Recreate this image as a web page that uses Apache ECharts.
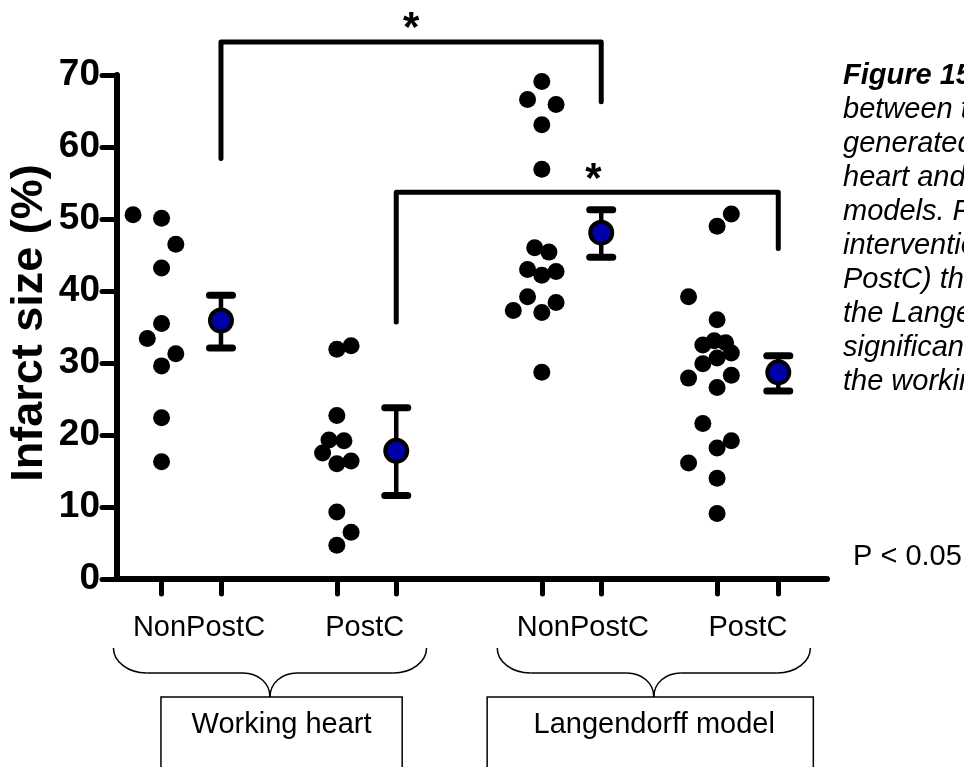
<!DOCTYPE html>
<html>
<head>
<meta charset="utf-8">
<script src="https://cdn.jsdelivr.net/npm/echarts@6/dist/echarts.min.js"></script>
<style>
  html, body { margin: 0; padding: 0; background: #fff; }
  #chart { width: 964px; height: 767px; }
</style>
</head>
<body>
<div id="chart"></div>
<script>
// Infarct size (%) of individual hearts, per model and treatment
const groupNames = ['NonPostC', 'PostC', 'NonPostC', 'PostC'];
const modelNames = ['Working heart', 'Langendorff model'];

const whNonPostC = [50.6, 50.1, 46.5, 43.2, 35.5, 33.4, 31.3, 29.6, 22.4, 16.3];
const whPostC = [32.4, 31.9, 22.7, 19.3, 19.2, 17.5, 16.4, 16.0, 9.3, 6.5, 4.7];
const lgNonPostC = [69.1, 66.6, 65.9, 63.1, 56.9, 46.0, 45.4, 43.0, 42.7, 42.2, 39.2, 38.4, 37.3, 37.0, 28.7];
const lgPostC = [50.7, 49.0, 39.2, 36.0, 33.1, 32.8, 32.5, 31.4, 30.7, 29.9, 28.3, 27.9, 26.6, 21.6, 19.2, 18.2, 16.1, 14.0, 9.1];

// group mean with the ends of its error bar
const groupMean = [35.9, 17.8, 48.1, 28.7];
const groupLow = [32.1, 11.6, 44.7, 26.1];
const groupHigh = [39.4, 23.8, 51.3, 31.0];

const yTicks = [0, 10, 20, 30, 40, 50, 60, 70];

// significance brackets: groups joined, height of the bar, foot of each leg
const sigFrom = [0, 1];
const sigTo = [2, 3];
const sigTop = [74.6, 53.7];
const sigLeftFoot = [58.4, 35.7];
const sigRightFoot = [66.3, 45.9];

const captionLines = ['Figure 15', 'between the', 'generated', 'heart and', 'models. For',
  'intervention', 'PostC) the', 'the Langendorff', 'significantly', 'the working'];
const pNote = 'P < 0.05';

// ---- layout (x in axis units) ----
const dotCol = [0.75, 3.7, 7.15, 10.1];
const meanCol = [1.75, 4.7, 8.15, 11.13];
const laneWidth = 0.24;
// scatter lanes of the dots inside each column (column-scatter placement)
const lanes = [
  [-2, 0, 1, 0, 0, -1, 1, 0, 0, 0],
  [1, 0, 0, -0.55, 0.5, -1, 1, 0, 0, 1, 0],
  [0, -1, 1, 0, 0, -0.5, 0.5, -1, 1, 0, -1, 1, -2, 0, 0],
  [1, 0, -2, 0, -0.2, 0.6, -1, 1, 0, -1, 1, -2, 0, -1, 1, 0, -2, 0, 0]
];
const labelCol = [1.38, 4.17, 7.84, 10.62];
const starCol = [4.95, 8.02];
const braceSpan = [[-0.06, 5.21], [6.40, 11.67]];
const boxSpan = [[0.74, 4.80], [6.23, 11.72]];

const FONT = '"Liberation Sans", Arial, sans-serif';
const groupValues = [whNonPostC, whPostC, lgNonPostC, lgPostC];

const dotData = [];
groupValues.forEach((vals, g) => {
  vals.forEach((v, k) => dotData.push([dotCol[g] + lanes[g][k] * laneWidth, v]));
});
const meanData = groupMean.map((m, g) => [meanCol[g], m]);
const errData = groupMean.map((m, g) => [meanCol[g], groupLow[g], groupHigh[g]]);

const bracketSeries = sigFrom.map((f, i) => ({
  type: 'line',
  silent: true,
  clip: false,
  symbol: 'none',
  z: 5,
  lineStyle: { color: '#000', width: 5, cap: 'round', join: 'round' },
  data: [
    [meanCol[f], sigLeftFoot[i]],
    [meanCol[f], sigTop[i]],
    [meanCol[sigTo[i]], sigTop[i]],
    [meanCol[sigTo[i]], sigRightFoot[i]]
  ]
}));

const chart = echarts.init(document.getElementById('chart'));

chart.setOption({
  animation: false,
  backgroundColor: '#fff',
  grid: { left: 117, right: 137, top: 75, bottom: 188, containLabel: false },
  xAxis: {
    type: 'value',
    min: 0,
    max: 11.95,
    splitLine: { show: false },
    axisLine: { lineStyle: { color: '#000', width: 6, cap: 'round' } },
    axisTick: {
      customValues: dotCol.concat(meanCol),
      length: 15,
      lineStyle: { color: '#000', width: 5, cap: 'round' }
    },
    axisLabel: { show: false }
  },
  yAxis: {
    type: 'value',
    min: 0,
    max: 70,
    interval: 10,
    splitLine: { show: false },
    axisLine: { lineStyle: { color: '#000', width: 6, cap: 'round' } },
    axisTick: { length: 15, lineStyle: { color: '#000', width: 5, cap: 'round' } },
    axisLabel: {
      customValues: yTicks,
      margin: 17,
      color: '#000',
      fontFamily: FONT,
      fontWeight: 'bold',
      fontSize: 37
    }
  },
  series: [
    {
      type: 'scatter',
      symbol: 'circle',
      symbolSize: 17,
      itemStyle: { color: '#000', opacity: 1 },
      z: 3,
      data: dotData
    },
    {
      type: 'custom',
      z: 4,
      encode: { x: 0, y: [1, 2] },
      data: errData,
      renderItem: function (params, api) {
        const x = api.value(0);
        const lo = api.coord([x, api.value(1)]);
        const hi = api.coord([x, api.value(2)]);
        const hw = 11.5;
        return {
          type: 'group',
          children: [
            { type: 'line', shape: { x1: lo[0], y1: lo[1], x2: hi[0], y2: hi[1] },
              style: { stroke: '#000', lineWidth: 4.5 } },
            { type: 'line', shape: { x1: hi[0] - hw, y1: hi[1], x2: hi[0] + hw, y2: hi[1] },
              style: { stroke: '#000', lineWidth: 7, lineCap: 'round' } },
            { type: 'line', shape: { x1: lo[0] - hw, y1: lo[1], x2: lo[0] + hw, y2: lo[1] },
              style: { stroke: '#000', lineWidth: 7, lineCap: 'round' } }
          ]
        };
      }
    },
    {
      type: 'scatter',
      symbol: 'circle',
      symbolSize: 22,
      z: 6,
      itemStyle: { color: '#0000AA', borderColor: '#000', borderWidth: 4, opacity: 1 },
      data: meanData
    }
  ].concat(bracketSeries)
});

// ---- annotations below and beside the plot ----
const px = v => chart.convertToPixel({ xAxisIndex: 0 }, v);
const pt = (x, y) => chart.convertToPixel({ xAxisIndex: 0, yAxisIndex: 0 }, [x, y]);
const graphics = [];
const thin = { stroke: '#000', lineWidth: 1.5, fill: 'none' };

function text(str, x, y, size, opts) {
  graphics.push({
    type: 'text', x: x, y: y, silent: true,
    style: Object.assign({
      text: str, fill: '#000', fontFamily: FONT, fontSize: size,
      align: 'center', verticalAlign: 'middle'
    }, opts || {})
  });
}
function curve(x1, y1, c1x, c1y, c2x, c2y, x2, y2) {
  graphics.push({
    type: 'bezierCurve', silent: true,
    shape: { x1: x1, y1: y1, cpx1: c1x, cpy1: c1y, cpx2: c2x, cpy2: c2y, x2: x2, y2: y2 },
    style: Object.assign({}, thin)
  });
}
function seg(x1, y1, x2, y2) {
  graphics.push({
    type: 'line', silent: true,
    shape: { x1: x1, y1: y1, x2: x2, y2: y2 },
    style: Object.assign({}, thin)
  });
}

// axis title
graphics.push({
  type: 'text', x: 30, y: 323, rotation: Math.PI / 2, silent: true,
  style: { text: 'Infarct size (%)', fill: '#000', fontFamily: FONT, fontWeight: 'bold',
    fontSize: 45, align: 'center', verticalAlign: 'middle' }
});

// group labels
groupNames.forEach((name, i) => text(name, px(labelCol[i]), 628, 29));

// braces and model boxes
const braceTop = 648, braceMid = 673, braceTip = 697;
braceSpan.forEach((span, i) => {
  const xl = px(span[0]), xr = px(span[1]), xc = (xl + xr) / 2;
  const rx = 33, ry = braceMid - braceTop, k = 0.5523;
  curve(xl, braceTop, xl, braceTop + ry * k, xl + rx * (1 - k), braceMid, xl + rx, braceMid);
  seg(xl + rx, braceMid, xc - 27, braceMid);
  curve(xc - 27, braceMid, xc - 12, braceMid, xc, braceMid + 10, xc, braceTip);
  curve(xc, braceTip, xc, braceMid + 10, xc + 12, braceMid, xc + 27, braceMid);
  seg(xc + 27, braceMid, xr - rx, braceMid);
  curve(xr - rx, braceMid, xr - rx * (1 - k), braceMid, xr, braceTop + ry * k, xr, braceTop);

  const bl = px(boxSpan[i][0]), br = px(boxSpan[i][1]);
  graphics.push({
    type: 'rect', silent: true,
    shape: { x: bl, y: braceTip, width: br - bl, height: 120 },
    style: Object.assign({}, thin)
  });
  text(modelNames[i], (bl + br) / 2 + (i === 1 ? 4 : 0), 725, 29);
});

// significance stars above each bracket
sigTop.forEach((top, i) => {
  const p = pt(starCol[i], top);
  text('*', p[0], p[1] - 12, 42, { fontWeight: 'bold' });
});

// caption column on the right
captionLines.forEach((line, i) => {
  text(line, 843, 86 - 10 + i * 34, 29, {
    align: 'left', fontStyle: 'italic', fontWeight: i === 0 ? 'bold' : 'normal'
  });
});
text(pNote, 853, 567 - 10, 29, { align: 'left' });

chart.setOption({ graphic: graphics });
</script>
</body>
</html>
